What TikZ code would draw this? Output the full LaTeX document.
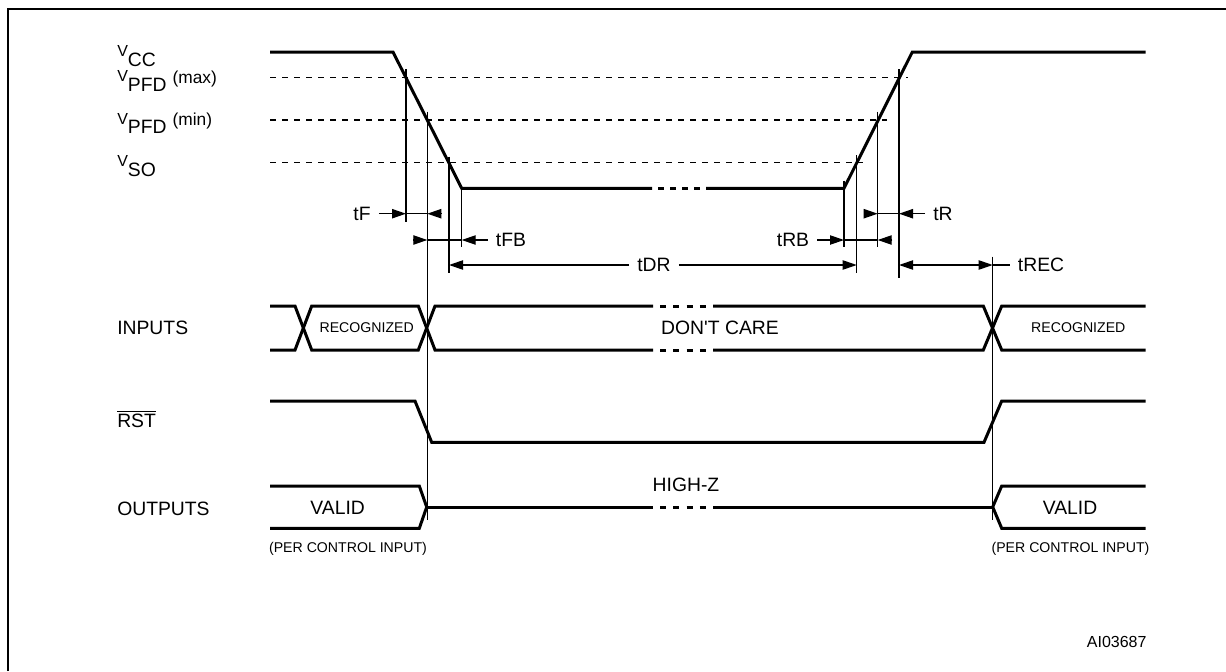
\documentclass[tikz,border=0pt]{standalone}
\usepackage{fontspec}
\setmainfont{Liberation Sans}
\usetikzlibrary{arrows.meta}
\newcommand\fsV{\fontsize{12}{13}\selectfont}
\newcommand\fsM{\fontsize{14.5}{17}\selectfont}
\newcommand\fsP{\fontsize{13}{15}\selectfont}
\begin{document}
\begin{tikzpicture}[x=0.75pt,y=-0.75pt,
  >={Triangle[length=10.5pt,width=7pt]},
  wave/.style={line width=2.25pt},
  guide/.style={line width=0.9pt},
  lvl/.style={line width=1pt, dash pattern=on 4.5pt off 4.5pt},
  framel/.style={line width=1.5pt},
  lab/.style={font=\fontsize{14.5}{17}\selectfont, inner sep=0pt},
  smalltxt/.style={font=\fontsize{10.6}{12}\selectfont, inner sep=0pt},
  dimlab/.style={font=\fontsize{14.5}{17}\selectfont, inner ysep=0pt, inner xsep=6pt},
  vlab/.style={anchor=base west, inner sep=0pt}
]
\useasboundingbox (0,0) rectangle (1226,671);
% frame
\draw[framel] (8,671) -- (8,9) -- (1226,9);

% level labels
\node[vlab] (vcc) at (117,56.7) {\fsV V\raisebox{-7.2pt}{\fsM CC}};
\node[vlab] (vpmax) at (117,81.7) {\fsV V\raisebox{-7.4pt}{\fsM PFD}\hspace{4.5pt}\raisebox{-1.2pt}{\fsP (max)}};
\node[vlab] (vpmin) at (117,124) {\fsV V\raisebox{-7.4pt}{\fsM PFD}\hspace{4.5pt}\raisebox{-1.2pt}{\fsP (min)}};
\node[vlab] (vso) at (117,166.7) {\fsV V\raisebox{-7.4pt}{\fsM SO}};

% dashed levels
\draw[lvl] (270,77.7) -- (908,77.7);
\draw[lvl] (270,120) -- (886.7,120);
\draw[lvl] (270,162.7) -- (863,162.7);

% VCC waveform
\draw[wave] (270,52) -- (393,52) -- (461.7,188.3) -- (652,188.3);
\foreach \a in {658,670,682,694} \draw[wave] (\a,188.3) -- ++(6,0);
\draw[wave] (706,188.3) -- (844,188.3) -- (912.3,52) -- (1145.7,52);

% guide coordinates
\coordinate (xA) at (406,0);
\coordinate (xB) at (427.3,0);
\coordinate (xC) at (449,0);
\coordinate (xD) at (461.7,0);
\coordinate (xE) at (844,0);
\coordinate (xF) at (856.7,0);
\coordinate (xG) at (877.7,0);
\coordinate (xH) at (899,0);
\coordinate (xI) at (992.7,0);
\coordinate (yF) at (0,213.7);
\coordinate (yFB) at (0,240);
\coordinate (yDR) at (0,265);

% vertical guides
\draw[guide] (406,69.3) -- (406,221.7);
\draw[guide] (427.3,111.7) -- (427.3,520);
\draw[guide] (449,156.7) -- (449,272.7);
\draw[guide] (461.7,187) -- (461.7,246.7);
\draw[guide] (844,180.7) -- (844,246.7);
\draw[guide] (856.7,155) -- (856.7,272.7);
\draw[guide] (877.7,111.7) -- (877.7,246.7);
\draw[guide] (899,69.3) -- (899,278.3);
\draw[guide] (992.7,256.7) -- (992.7,520);

% tF
\node[dimlab] (tF) at (362,213.7) {tF};
\coordinate (tFr) at (441.7,213.7);
\draw[guide,->] (tF.east) -- (xA |- yF);
\draw[guide] (xA |- yF) -- (xB |- yF);
\draw[guide,->] (tFr) -- (xB |- yF);
% tFB
\node[dimlab] (tFB) at (511,240) {tFB};
\coordinate (tFBl) at (413.3,240);
\draw[guide,->] (tFBl) -- (xB |- yFB);
\draw[guide] (xB |- yFB) -- (xD |- yFB);
\draw[guide,->] (tFB.west) -- (xD |- yFB);
% tDR
\node[dimlab] (tDR) at (654,265) {tDR};
\draw[guide,->] (tDR.west) -- (xC |- yDR);
\draw[guide,->] (tDR.east) -- (xF |- yDR);
% tRB
\node[dimlab] (tRB) at (793,240) {tRB};
\coordinate (tRBr) at (892.3,240);
\draw[guide,->] (tRB.east) -- (xE |- yFB);
\draw[guide] (xE |- yFB) -- (xG |- yFB);
\draw[guide,->] (tRBr) -- (xG |- yFB);
% tR
\node[dimlab] (tR) at (943,213.7) {tR};
\coordinate (tRl) at (864,213.7);
\draw[guide,->] (tRl) -- (xG |- yF);
\draw[guide] (xG |- yF) -- (xH |- yF);
\draw[guide,->] (tR.west) -- (xH |- yF);
% tREC
\node[dimlab] (tREC) at (1041,265) {tREC};
\draw[guide,<->] (xH |- yDR) -- (xI |- yDR);
\draw[guide] (xI |- yDR) -- (tREC.west);

% INPUTS
\node[lab,anchor=west] (inp) at (117,328) {INPUTS};
\draw[wave] (270,306) -- (295,306) -- (311.7,350) -- (418.3,350) -- (435,306) -- (653,306);
\draw[wave] (270,350) -- (295,350) -- (311.7,306) -- (418.3,306) -- (435,350) -- (653,350);
\foreach \a in {660.2,673.4,686.6,699.8} {\draw[wave] (\a,306) -- ++(6,0); \draw[wave] (\a,350) -- ++(6,0);}
\draw[wave] (713,306) -- (983.3,306) -- (1001.7,350) -- (1145.7,350);
\draw[wave] (713,350) -- (983.3,350) -- (1001.7,306) -- (1145.7,306);
\node[smalltxt] (rec1) at (366.7,328) {RECOGNIZED};
\node[lab] (dc) at (720,328) {DON\textquotesingle T CARE};
\node[smalltxt] (rec2) at (1078.3,328) {RECOGNIZED};

% RST
\node[lab,anchor=west] (rst) at (117,421) {RST};
\draw[guide] ([yshift=1.8pt]rst.north west) -- ([yshift=1.8pt]rst.north east);
\draw[wave] (270,401) -- (415,401) -- (431.7,442.3) -- (984,442.3) -- (1001.7,401) -- (1145.7,401);

% OUTPUTS
\node[lab,anchor=west] (outp) at (117,509) {OUTPUTS};
\draw[wave] (270,486) -- (419.3,486) -- (426.7,507) -- (419.3,528.3) -- (270,528.3);
\draw[wave] (426.7,507) -- (653,507);
\foreach \a in {660.2,673.4,686.6,699.8} \draw[wave] (\a,507) -- ++(6,0);
\draw[wave] (713,507) -- (992.7,507);
\draw[wave] (1145.7,486) -- (1001.7,486) -- (992.7,507) -- (1001.7,528.3) -- (1145.7,528.3);
\node[lab] (val1) at (337.7,508) {VALID};
\node[lab] (hz) at (686,485) {HIGH-Z};
\node[lab] (val2) at (1070,508) {VALID};
\node[smalltxt] (pci1) at (348,549.3) {(PER CONTROL INPUT)};
\node[smalltxt] (pci2) at (1070.5,549.3) {(PER CONTROL INPUT)};

\node[font=\fontsize{12}{14}\selectfont, inner sep=0pt] (ai) at (1116.7,641.7) {AI03687};
\end{tikzpicture}
\end{document}
